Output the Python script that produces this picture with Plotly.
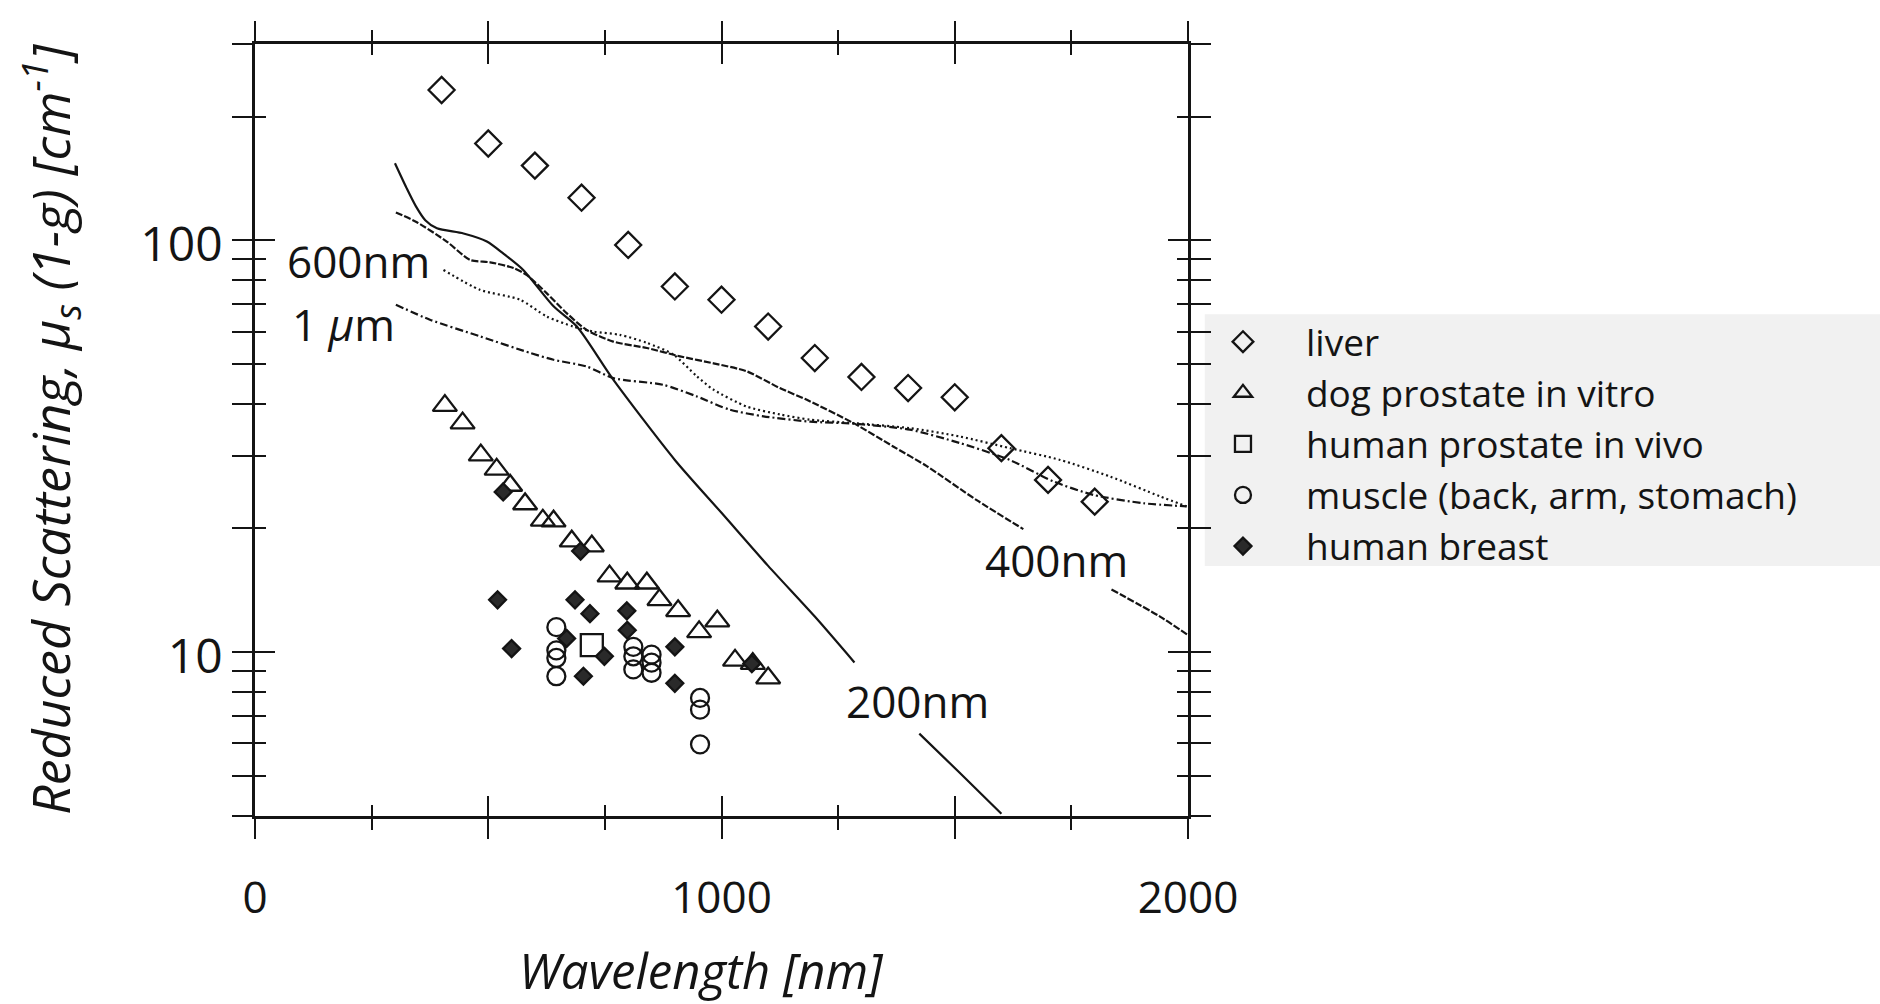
import math
import plotly.graph_objects as go

# ---------------- measured reduced scattering, mu_s' [cm^-1] ----------------
liver_nm = [400, 500, 600, 700, 800, 900, 1000, 1100, 1200, 1300, 1400, 1500, 1600, 1700, 1800]
liver_mus = [232, 172, 152, 127, 97.5, 77.3, 71.8, 61.8, 51.8, 46.6, 43.8, 41.6, 31.3, 26.2, 23.2]

dog_nm = [407, 445, 484, 518, 547, 579, 617, 640, 679, 722, 760, 798, 840, 867, 907, 952, 991, 1029, 1067, 1100]
dog_mus = [39.7, 36.0, 30.1, 27.8, 25.4, 22.9, 20.9, 20.8, 18.6, 18.1, 15.3, 14.7, 14.7, 13.4, 12.6, 11.2, 11.9, 9.55, 9.38, 8.65]

prostate_nm = [722]
prostate_mus = [10.4]

muscle_nm = [646, 646, 646, 646, 811, 811, 811, 850, 850, 850, 954, 954, 954]
muscle_mus = [11.5, 10.1, 9.68, 8.74, 10.3, 9.77, 9.08, 9.86, 9.43, 8.91, 7.74, 7.25, 5.97]

breast_nm = [532, 698, 520, 686, 718, 797, 798, 550, 668, 749, 900, 704, 900, 1065]
breast_mus = [24.5, 17.6, 13.4, 13.4, 12.4, 12.6, 11.3, 10.2, 10.8, 9.77, 10.3, 8.74, 8.40, 9.38]

# ---------------- Mie curves for several particle sizes ----------------
# None breaks a curve where its label sits
mie200_nm = [300, 325, 345, 365, 390, 447, 497, 532, 575, 640, 690, 768, 900, 1000, 1100, 1200, 1285, None, 1424, 1510, 1600]
mie200_mus = [154, 134, 121, 112, 107, 104, 99.4, 93.0, 84.8, 69.2, 61.8, 45.9, 29.3, 21.8, 16.2, 12.2, 9.44, None, 6.34, 5.1, 4.05]

mie400_nm = [302, 347, 411, 461, 504, 554, 582, 625, 668, 711, 768, 840, 911, 983, 1054, 1125, 1183, 1283, 1368, 1440, 1547, 1647,
             None, 1836, 1940, 2000]
mie400_mus = [117, 110.7, 99.4, 89.7, 88.5, 85.7, 82.5, 74.5, 66.6, 60.6, 56.8, 54.8, 52.3, 50.3, 48.1, 43.8, 41.0, 36.0, 31.6, 28.3, 23.4, 19.9,
              None, 14.2, 12.2, 11.0]

mie600_nm = [404, 482, 568, 625, 682, 725, 782, 840, 897, 947, 983, 1054, 1125, 1190, 1283, 1404, 1511, 1618, 1726, 1833, 1940, 1997]
mie600_mus = [84.8, 75.9, 71.8, 65.4, 61.8, 60.1, 59.0, 56.4, 52.8, 46.8, 43.4, 39.5, 37.8, 36.7, 36.0, 35.0, 33.4, 31.3, 29.3, 26.7, 23.9, 22.6]

mie1um_nm = [302, 375, 482, 590, 640, 711, 768, 875, 947, 1018, 1090, 1190, 1283, 1404, 1511, 1618, 1711, 1797, 1904, 1997]
mie1um_mus = [69.8, 64.2, 58.5, 53.3, 51.3, 49.4, 46.3, 44.6, 41.8, 38.8, 37.4, 36.3, 35.9, 34.7, 32.2, 29.3, 26.0, 24.1, 23.0, 22.6]

curve_labels = ["600nm", "1 <i>μ</i>m", "400nm", "200nm"]
curve_label_nm = [221, 189, 1719, 1421]
curve_label_mus = [89.2, 62.7, 16.7, 7.62]

# ---------------- axis ticks ----------------
x_major = [0, 500, 1000, 1500, 2000]
x_labelled = [0, 1000, 2000]
x_minor = [250, 750, 1250, 1750]
y_major = [10, 100]
y_major_text = ["10", "100"]
y_minor = [4, 5, 6, 7, 8, 9, 20, 30, 40, 50, 60, 70, 80, 90, 200, 300]

INK = "#141414"
FONT = "Open Sans"

fig = go.Figure()

# model curves
for xs, ys, dash in [
    (mie200_nm, mie200_mus, "solid"),
    (mie400_nm, mie400_mus, "7px,2px"),
    (mie600_nm, mie600_mus, "2px,3px"),
    (mie1um_nm, mie1um_mus, "8px,3px,2px,3px"),
]:
    fig.add_trace(go.Scatter(
        x=xs, y=ys, mode="lines", connectgaps=False, showlegend=False, hoverinfo="skip",
        line=dict(color=INK, width=2.2, dash=dash, shape="spline", smoothing=0.7),
    ))

# measured tissue data
for name, xs, ys, sym, size, fill in [
    ("liver", liver_nm, liver_mus, "diamond-open", 20, INK),
    ("dog prostate in vitro", dog_nm, dog_mus, "triangle-up-open", 21, INK),
    ("human prostate in vivo", prostate_nm, prostate_mus, "square-open", 22, INK),
    ("muscle (back, arm, stomach)", muscle_nm, muscle_mus, "circle-open", 18, INK),
    ("human breast", breast_nm, breast_mus, "diamond", 13, "#2a2a2a"),
]:
    fig.add_trace(go.Scatter(
        x=xs, y=ys, mode="markers", name=name,
        marker=dict(symbol=sym, size=size, color=fill, line=dict(color=INK, width=2.3)),
    ))

# companion axes: inward tick halves (x2/y2) and the wavelength labels (x3)
fig.add_trace(go.Scatter(x=[None], y=[None], xaxis="x2", yaxis="y2", showlegend=False, hoverinfo="skip"))
fig.add_trace(go.Scatter(x=[None], y=[None], xaxis="x3", yaxis="y", showlegend=False, hoverinfo="skip"))

ylo, yhi = math.log10(4) - 1e-4, math.log10(300) + 1e-4

tick_common = dict(tickwidth=2, tickcolor=INK, showgrid=False, zeroline=False, automargin=False)

fig.update_layout(
    width=1880, height=1004,
    margin=dict(l=255, r=692, t=44, b=188, autoexpand=False),
    paper_bgcolor="white", plot_bgcolor="white",
    font=dict(family=FONT, color=INK),
    showlegend=True,
    xaxis=dict(
        range=[0, 2000], tickmode="array", tickvals=x_major, showticklabels=False,
        ticks="outside", ticklen=20, mirror="allticks", showline=True, linewidth=2.5, linecolor=INK,
        minor=dict(tickmode="array", tickvals=x_minor, ticks="outside", ticklen=11, tickwidth=2, tickcolor=INK),
        **tick_common,
    ),
    xaxis2=dict(
        overlaying="x", anchor="y2", range=[0, 2000], tickmode="array", tickvals=x_major,
        ticks="inside", ticklen=20, mirror="allticks", showline=False, showticklabels=False,
        minor=dict(tickmode="array", tickvals=x_minor, ticks="inside", ticklen=11, tickwidth=2, tickcolor=INK),
        **tick_common,
    ),
    xaxis3=dict(
        overlaying="x", anchor="y", range=[0, 2000], tickmode="array", tickvals=x_labelled,
        ticktext=[str(v) for v in x_labelled], ticks="", showline=False,
        tickfont=dict(size=44, family=FONT, color=INK), ticklabelstandoff=52,
        showgrid=False, zeroline=False, automargin=False,
    ),
    yaxis=dict(
        type="log", range=[ylo, yhi], tickmode="array", tickvals=y_major, ticktext=y_major_text,
        ticks="outside", ticklen=20, mirror="allticks", showline=True, linewidth=2.5, linecolor=INK,
        minor=dict(tickmode="array", tickvals=y_minor, ticks="outside", ticklen=11, tickwidth=2, tickcolor=INK),
        tickfont=dict(size=48, family=FONT, color=INK), ticklabelshift=4,
        title=dict(text="<i>Reduced Scattering, μ<sub>s</sub> (1-g) [cm<sup>-1</sup>]</i>",
                   font=dict(size=52, family=FONT, color=INK), standoff=54),
        **tick_common,
    ),
    yaxis2=dict(
        overlaying="y", anchor="x2", type="log", range=[ylo, yhi], tickmode="array", tickvals=y_major,
        ticks="inside", ticklen=20, mirror="allticks", showline=False, showticklabels=False,
        minor=dict(tickmode="array", tickvals=y_minor, ticks="inside", ticklen=11, tickwidth=2, tickcolor=INK),
        **tick_common,
    ),
    legend=dict(
        xref="paper", yref="paper", x=0.9914, y=0.654,
        xanchor="left", yanchor="top", bgcolor="rgba(0,0,0,0)",
        font=dict(size=37, family=FONT, color=INK), itemwidth=116, tracegroupgap=0,
    ),
)

# x-axis title, set slightly left of the plot centre
fig.add_annotation(text="<i>Wavelength [nm]</i>", xref="paper", yref="paper", x=0.478, y=-0.199,
                   showarrow=False, xanchor="center", yanchor="middle",
                   font=dict(size=49, family=FONT, color=INK))

# pale panel behind the key
fig.add_shape(type="rect", xref="paper", yref="paper", x0=1.018, x1=1.7417, y0=0.3238, y1=0.650,
              layer="below", line=dict(width=0), fillcolor="#f1f1f1")

for txt, xv, yv in zip(curve_labels, curve_label_nm, curve_label_mus):
    fig.add_annotation(x=xv, y=math.log10(yv), xref="x", yref="y", text=txt, showarrow=False,
                       font=dict(size=44, family=FONT, color=INK), xanchor="center", yanchor="middle")

fig.write_html("out.html")
